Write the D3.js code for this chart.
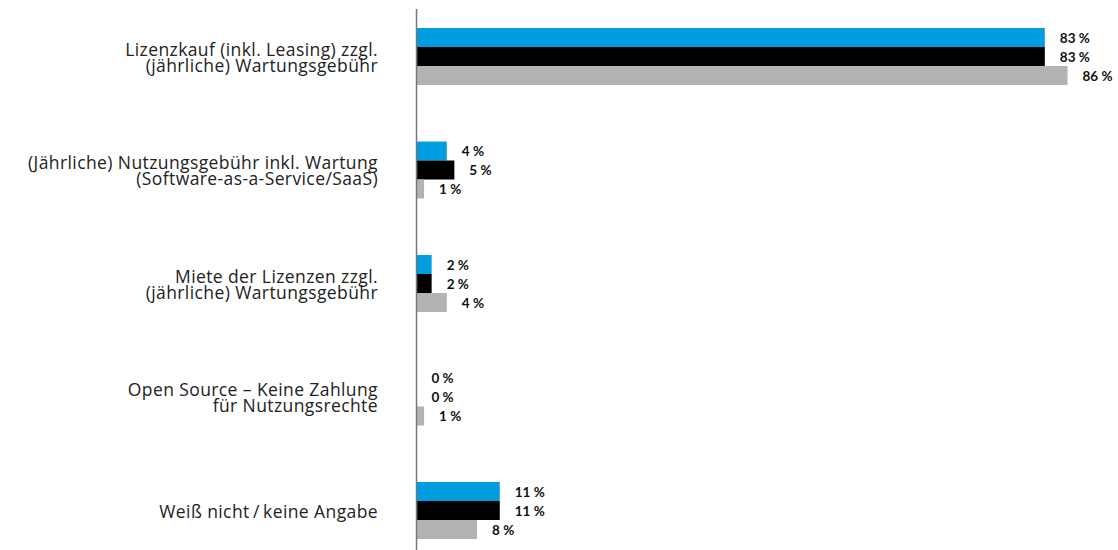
<!DOCTYPE html>
<html>
<head>
<meta charset="utf-8">
<title>Lizenzmodelle</title>
<script src="https://d3js.org/d3.v7.min.js"></script>
<style type="text/css">
    body { margin: 0; background: #fff; }
    .cat { font-family: "Open Sans", sans-serif; font-size: 17.5px; letter-spacing: 0.4px; fill: #222; }
    .val { font-family: Lato, sans-serif; font-size: 13.5px; font-weight: bold; fill: #111; }
</style>
</head>
<body>
<script>
    // categories (each one a list of lines)
    const categories = [
        ["Lizenzkauf (inkl. Leasing) zzgl.", "(jährliche) Wartungsgebühr"],
        ["(Jährliche) Nutzungsgebühr inkl. Wartung", "(Software-as-a-Service/SaaS)"],
        ["Miete der Lizenzen zzgl.", "(jährliche) Wartungsgebühr"],
        ["Open Source – Keine Zahlung", "für Nutzungsrechte"],
        ["Weiß nicht\u2009/\u2009keine Angabe"]
    ]
    const seriesNames = ["blau", "schwarz", "grau"]
    const seriesBlue = [83, 4, 2, 0, 11]
    const seriesBlack = [83, 5, 2, 0, 11]
    const seriesGray = [86, 1, 4, 1, 8]
    const colors = ["#009de0", "#000000", "#b3b3b3"]

    const W = 1118, H = 550

    const svg = d3.select("body").append("svg").attr("width", W).attr("height", H)

    const keys = categories.map((c, i) => i)
    const y = d3.scaleBand().domain(keys).range([28, 539]).paddingInner(1 - 57 / 113.5).paddingOuter(0)
    const ySub = d3.scaleBand().domain(seriesNames).range([0, y.bandwidth()])
    const x = d3.scaleLinear().domain([0, 100]).range([416.5, 1173.5])

    const rows = keys.map(i => ({
        i: i,
        lines: categories[i],
        values: [seriesBlue[i], seriesBlack[i], seriesGray[i]]
    }))

    const groups = svg.selectAll("g.grp").data(rows).join("g")
        .attr("class", "grp")
        .attr("transform", d => `translate(0,${y(d.i)})`)

    groups.selectAll("rect").data(d => d.values.map((v, k) => ({ v: v, k: k })))
        .join("rect")
        .attr("x", x(0))
        .attr("y", d => ySub(seriesNames[d.k]))
        .attr("width", d => x(d.v) - x(0))
        .attr("height", ySub.bandwidth())
        .attr("fill", d => colors[d.k])

    groups.selectAll("text.val").data(d => d.values.map((v, k) => ({ v: v, k: k })))
        .join("text")
        .attr("class", "val")
        .attr("x", d => x(d.v) + 15)
        .attr("y", d => ySub(seriesNames[d.k]) + ySub.bandwidth() / 2 + 5)
        .text(d => d.v + " %")

    // category labels, right aligned, several lines
    groups.each(function (d) {
        const n = d.lines.length
        const t = d3.select(this).append("text").attr("class", "cat").attr("text-anchor", "end")
        d.lines.forEach((line, j) => {
            t.append("tspan")
                .attr("x", 378)
                .attr("y", y.bandwidth() / 2 + 7 + (j - (n - 1) / 2) * 16)
                .text(line)
        })
    })

    // vertical axis line
    svg.append("line")
        .attr("x1", x(0)).attr("x2", x(0))
        .attr("y1", 9).attr("y2", H)
        .attr("stroke", "#777").attr("stroke-width", 1.5)
</script>
</body>
</html>
